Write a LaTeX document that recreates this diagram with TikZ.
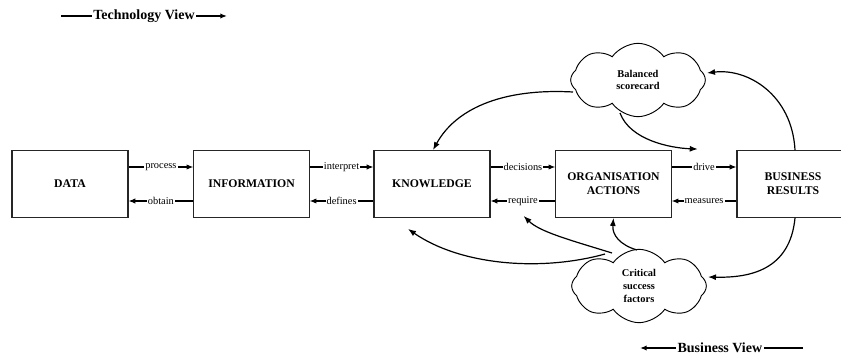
\documentclass[tikz,border=0pt]{standalone}
\usepackage{fontspec}
\setmainfont{Liberation Serif}
\usetikzlibrary{shapes.symbols,arrows.meta,calc}
\begin{document}
\begin{tikzpicture}[x=0.75pt,y=-0.75pt,
  box/.style={draw=black!85,line width=0.9pt,minimum height=50pt,align=center,
    font=\fontsize{8.8}{10.5}\selectfont\bfseries},
  lbl/.style={fill=white,inner sep=0.8pt,font=\fontsize{7.8}{9}\selectfont},
  conn/.style={line width=0.8pt,-{Latex[length=5pt,width=4pt]}},
  curv/.style={line width=0.9pt,-{Latex[length=6pt,width=4.5pt]}},
  cld/.style={cloud,draw,line width=0.7pt,cloud puffs=8,cloud puff arc=110,aspect=1.8,
    minimum width=101pt,minimum height=55pt,inner sep=0pt,align=center,
    font=\fontsize{7.8}{9.5}\selectfont\bfseries},
  view/.style={fill=white,inner sep=1pt,font=\fontsize{10.5}{12}\selectfont\bfseries}]
\useasboundingbox (0,0) rectangle (841,356);

\node[box,minimum width=87pt] (data) at (70,184) {DATA};
\node[box,minimum width=86.5pt] (info) at (251.5,184) {INFORMATION};
\node[box,minimum width=87pt] (know) at (432,184) {KNOWLEDGE};
\node[box,minimum width=86.5pt] (org) at (613.5,184) {ORGANISATION\\ACTIONS};
\node[box,minimum width=84pt] (bus) at (793,184) {BUSINESS\\RESULTS};

\node[cld] (bs) at (638,80) {Balanced\\scorecard};
\node[cld] (csf) at (639,286) {Critical\\success\\factors};

% straight connectors
\draw[conn] ([yshift=12.75pt]data.east) -- node[lbl]{process} ([yshift=12.75pt]info.west);
\draw[conn] ([yshift=-12.75pt]info.west) -- node[lbl]{obtain} ([yshift=-12.75pt]data.east);
\draw[conn] ([yshift=12.75pt]info.east) -- node[lbl]{interpret} ([yshift=12.75pt]know.west);
\draw[conn] ([yshift=-12.75pt]know.west) -- node[lbl]{defines} ([yshift=-12.75pt]info.east);
\draw[conn] ([yshift=12.75pt]know.east) -- node[lbl]{decisions} ([yshift=12.75pt]org.west);
\draw[conn] ([yshift=-12.75pt]org.west) -- node[lbl]{require} ([yshift=-12.75pt]know.east);
\draw[conn] ([yshift=12.75pt]org.east) -- node[lbl]{drive} ([yshift=12.75pt]bus.west);
\draw[conn] ([yshift=-12.75pt]bus.west) -- node[lbl]{measures} ([yshift=-12.75pt]org.east);

% curved arrows
\coordinate (drivept) at ($(org.north east)+(26,-1)$);
\coordinate (reqpt) at ($(know.south east)+(33,-2)$);
\coordinate (knowpt) at ($(know.south)+(-24,11)$);

\draw[curv] ($(bus.north)+(2,0)$) .. controls (792,95) and (748,68) .. ($(bs)+(69,-7)$);
\draw[curv] ($(bs)+(-18,33)$) .. controls (630,140) and (670,148) .. (drivept);
\draw[curv] ($(bs)+(-65,12)$) .. controls (500,88) and (455,110) .. ($(know.north)+(1,0)$);
\draw[curv] ($(bus.south)+(2,0)$) .. controls (790,270) and (750,278) .. ($(csf)+(69,-9)$);
\draw[curv] ($(csf)+(-2,-36)$) .. controls (620,245) and (612,235) .. (org.south);
\draw[curv] ($(csf)+(-27,-33)$) .. controls (570,240) and (540,232) .. (reqpt);
\draw[curv] ($(csf)+(-34,-32)$) .. controls (540,272) and (460,265) .. (knowpt);

% view arrows
\coordinate (tvs) at (61,16);
\coordinate (tve) at (227,16);
\draw[conn,line width=1pt] (tvs) -- node[view]{Technology View} (tve);
\coordinate (bvs) at (803,348);
\coordinate (bve) at (640,348);
\draw[conn,line width=1pt] (bvs) -- node[view,pos=0.51]{Business View} (bve);
\end{tikzpicture}
\end{document}
